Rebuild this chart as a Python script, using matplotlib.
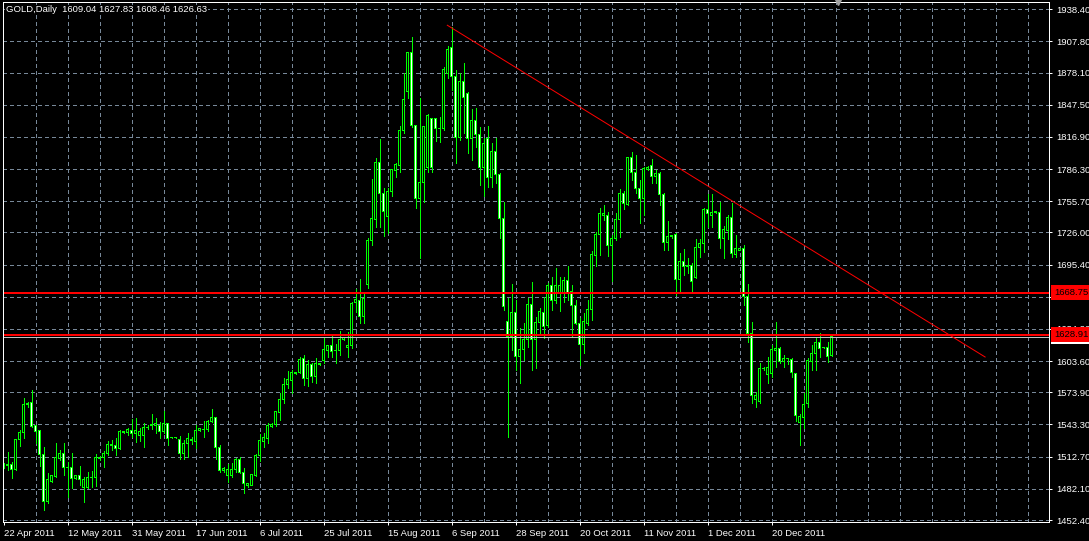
import matplotlib
matplotlib.use("Agg")
import matplotlib.pyplot as plt
import numpy as np
from matplotlib.transforms import blended_transform_factory, offset_copy

# daily GOLD candles (bar 0 = 22 Apr 2011)
opens = [
    1503.8, 1503.8, 1505.4, 1500.7, 1529.2, 1535.5, 1562.2, 1564.4, 1542.5, 1537.1,
    1514.9, 1469.9, 1488.9, 1493.7, 1510.8, 1515.9, 1502.6, 1502.6, 1492.1, 1494.3,
    1483.2, 1483.2, 1493.0, 1493.0, 1510.8, 1512.1, 1515.9, 1523.2, 1523.5, 1520.6,
    1535.5, 1535.5, 1537.8, 1534.9, 1533.0, 1533.0, 1540.6, 1542.2, 1542.2, 1542.5,
    1536.8, 1543.8, 1530.5, 1530.5, 1529.2, 1515.3, 1525.4, 1527.6, 1527.0, 1537.5,
    1538.7, 1538.1, 1546.0, 1549.5, 1521.6, 1499.4, 1494.6, 1494.6, 1500.0, 1510.2,
    1497.8, 1485.4, 1485.4, 1494.9, 1513.7, 1527.3, 1529.8, 1541.6, 1542.8, 1554.5,
    1567.2, 1581.8, 1585.0, 1591.6, 1592.6, 1606.3, 1587.2, 1600.5, 1588.8, 1600.2,
    1604.0, 1613.5, 1618.6, 1613.5, 1613.5, 1624.6, 1616.4, 1618.0, 1659.2, 1660.8,
    1645.9, 1676.7, 1718.2, 1738.8, 1792.4, 1763.3, 1741.1, 1764.8, 1784.8, 1789.6,
    1822.9, 1860.0, 1897.4, 1827.6, 1757.9, 1773.4, 1787.7, 1834.6, 1834.0, 1825.1,
    1825.1, 1877.4, 1902.2, 1874.3, 1816.5, 1869.5, 1858.4, 1815.0, 1833.0, 1819.4,
    1788.0, 1815.0, 1778.5, 1802.9, 1781.3, 1739.5, 1641.1, 1626.9, 1650.0, 1607.8,
    1614.2, 1623.7, 1657.6, 1623.7, 1640.5, 1650.0, 1637.3, 1676.0, 1661.7, 1667.5,
    1667.5, 1680.5, 1669.6, 1656.4, 1639.5, 1619.5, 1639.5, 1652.9, 1704.0, 1724.2,
    1742.6, 1741.7, 1713.5, 1719.8, 1737.9, 1763.3, 1752.8, 1797.5, 1783.2, 1768.0,
    1758.5, 1786.1, 1789.3, 1779.7, 1782.3, 1762.3, 1716.6, 1722.6, 1724.2, 1681.4,
    1698.2, 1693.5, 1695.0, 1683.3, 1711.9, 1715.7, 1747.4, 1742.6, 1744.9, 1745.2,
    1719.8, 1727.7, 1740.4, 1704.6, 1709.3, 1710.9, 1664.9, 1630.0, 1566.6, 1565.0,
    1596.7, 1591.0, 1591.9, 1613.5, 1615.7, 1603.0, 1606.2, 1605.3, 1592.0, 1545.0,
    1550.0, 1563.4, 1603.0, 1611.0, 1621.5, 1616.7, 1616.7, 1609.04,
]
highs = [
    1506.4, 1517.5, 1507.9, 1529.2, 1538.1, 1568.2, 1565.1, 1576.2, 1542.8, 1537.1,
    1521.6, 1496.9, 1495.3, 1525.4, 1519.1, 1525.4, 1507.9, 1515.9, 1494.6, 1503.8,
    1493.7, 1498.4, 1499.1, 1515.3, 1513.3, 1518.4, 1527.6, 1528.6, 1530.2, 1538.1,
    1536.4, 1540.0, 1548.2, 1549.2, 1539.7, 1544.4, 1542.8, 1553.3, 1549.8, 1546.0,
    1556.5, 1545.1, 1531.0, 1531.0, 1532.4, 1528.6, 1534.9, 1531.7, 1542.5, 1539.4,
    1546.7, 1547.6, 1557.8, 1550.1, 1523.8, 1503.2, 1505.4, 1506.4, 1511.1, 1512.7,
    1501.6, 1488.0, 1496.2, 1514.9, 1534.3, 1534.9, 1544.4, 1544.4, 1556.2, 1572.9,
    1587.2, 1594.2, 1595.1, 1592.8, 1607.2, 1609.4, 1604.7, 1601.5, 1606.2, 1601.8,
    1625.3, 1618.9, 1627.5, 1619.9, 1632.2, 1626.9, 1631.0, 1660.2, 1671.9, 1681.4,
    1668.1, 1720.4, 1776.6, 1797.2, 1814.6, 1768.0, 1768.0, 1785.5, 1791.8, 1827.3,
    1877.4, 1898.1, 1912.3, 1828.3, 1853.7, 1827.3, 1838.4, 1835.3, 1835.3, 1836.2,
    1883.8, 1903.5, 1921.2, 1880.6, 1877.4, 1887.0, 1860.0, 1843.2, 1844.1, 1826.7,
    1815.6, 1827.3, 1810.8, 1815.6, 1782.3, 1755.3, 1663.3, 1677.0, 1661.8, 1634.8,
    1639.5, 1663.3, 1678.6, 1645.9, 1653.8, 1664.9, 1677.6, 1684.0, 1691.9, 1683.3,
    1684.0, 1694.4, 1676.0, 1661.7, 1644.3, 1649.1, 1661.7, 1708.7, 1726.8, 1749.6,
    1752.1, 1745.2, 1723.6, 1744.2, 1767.1, 1765.8, 1798.1, 1802.9, 1799.7, 1776.0,
    1788.0, 1789.3, 1795.9, 1785.5, 1783.9, 1763.2, 1736.9, 1723.6, 1725.8, 1706.2,
    1710.0, 1701.4, 1696.6, 1719.5, 1719.5, 1749.0, 1762.6, 1762.6, 1746.7, 1755.3,
    1732.2, 1742.6, 1754.4, 1723.6, 1711.2, 1714.1, 1677.0, 1641.1, 1574.5, 1601.5,
    1598.3, 1607.8, 1618.9, 1641.1, 1617.3, 1609.4, 1606.5, 1606.2, 1592.6, 1553.0,
    1573.0, 1606.2, 1618.9, 1626.9, 1630.0, 1617.0, 1622.1, 1627.83,
]
lows = [
    1501.6, 1500.0, 1492.1, 1500.0, 1522.9, 1530.2, 1560.3, 1541.3, 1526.0, 1503.8,
    1461.9, 1468.9, 1488.9, 1493.7, 1509.5, 1495.3, 1474.6, 1482.6, 1491.5, 1485.7,
    1469.9, 1482.6, 1484.2, 1484.8, 1509.5, 1502.6, 1514.3, 1519.1, 1514.3, 1519.7,
    1535.3, 1533.0, 1531.7, 1527.0, 1527.6, 1522.2, 1538.7, 1539.4, 1534.9, 1530.2,
    1534.9, 1523.8, 1530.0, 1530.0, 1510.2, 1510.2, 1512.7, 1524.8, 1520.6, 1537.2,
    1531.7, 1537.5, 1546.0, 1510.5, 1498.4, 1498.4, 1488.9, 1493.7, 1498.4, 1496.9,
    1477.8, 1484.2, 1485.4, 1494.3, 1508.9, 1521.6, 1525.4, 1540.6, 1541.9, 1547.6,
    1563.4, 1577.7, 1572.9, 1591.4, 1592.0, 1580.9, 1579.9, 1584.0, 1582.5, 1599.9,
    1602.1, 1607.2, 1607.8, 1602.1, 1609.4, 1623.7, 1607.2, 1615.7, 1650.6, 1640.2,
    1640.2, 1673.5, 1714.1, 1731.5, 1731.5, 1722.7, 1725.8, 1760.7, 1779.1, 1783.9,
    1820.4, 1853.7, 1826.1, 1749.0, 1702.0, 1755.3, 1783.9, 1783.9, 1813.4, 1812.4,
    1823.5, 1873.3, 1861.6, 1791.8, 1814.0, 1820.4, 1801.3, 1795.0, 1807.7, 1771.2,
    1760.7, 1769.6, 1769.0, 1772.8, 1720.4, 1652.0, 1531.7, 1614.2, 1595.1, 1582.4,
    1604.6, 1617.3, 1595.1, 1596.7, 1630.0, 1625.3, 1636.4, 1652.2, 1659.2, 1651.6,
    1660.2, 1661.7, 1626.9, 1638.9, 1599.9, 1611.0, 1638.0, 1642.7, 1694.4, 1704.6,
    1737.9, 1703.6, 1680.1, 1718.8, 1722.0, 1748.0, 1752.1, 1775.9, 1763.3, 1735.3,
    1742.6, 1785.5, 1772.8, 1772.8, 1752.1, 1709.3, 1709.3, 1720.4, 1666.5, 1669.7,
    1685.5, 1687.1, 1670.6, 1682.4, 1703.0, 1707.7, 1731.5, 1731.5, 1744.2, 1710.9,
    1701.4, 1719.5, 1703.0, 1703.0, 1709.0, 1657.0, 1622.1, 1563.4, 1560.2, 1563.4,
    1595.1, 1582.4, 1588.8, 1598.3, 1602.1, 1598.3, 1601.0, 1588.8, 1547.0, 1524.0,
    1540.0, 1560.0, 1595.1, 1595.1, 1607.8, 1616.0, 1603.0, 1608.46,
]
closes = [
    1503.9, 1505.1, 1500.7, 1529.2, 1535.9, 1561.9, 1562.8, 1541.3, 1536.5, 1514.9,
    1469.9, 1490.5, 1494.9, 1511.8, 1515.9, 1502.2, 1502.4, 1492.1, 1494.3, 1491.1,
    1490.5, 1492.7, 1493.1, 1512.1, 1512.1, 1515.9, 1523.8, 1524.4, 1520.6, 1536.2,
    1536.2, 1538.1, 1534.9, 1537.1, 1536.8, 1540.6, 1540.8, 1543.5, 1543.8, 1536.8,
    1544.4, 1530.2, 1530.6, 1530.6, 1515.6, 1525.4, 1530.2, 1529.2, 1537.8, 1539.0,
    1538.8, 1546.3, 1549.5, 1521.3, 1499.4, 1501.6, 1500.0, 1500.0, 1510.2, 1497.8,
    1487.3, 1487.3, 1495.9, 1514.0, 1527.6, 1530.5, 1542.2, 1543.5, 1555.2, 1567.5,
    1581.8, 1586.2, 1592.6, 1592.6, 1605.6, 1587.2, 1600.5, 1588.8, 1601.5, 1601.5,
    1615.1, 1618.6, 1612.6, 1613.6, 1624.6, 1625.9, 1618.6, 1658.6, 1661.8, 1645.9,
    1663.6, 1718.8, 1739.5, 1792.4, 1763.3, 1745.8, 1764.8, 1785.5, 1790.9, 1822.9,
    1852.1, 1897.4, 1827.6, 1757.9, 1773.7, 1826.7, 1837.2, 1787.7, 1825.1, 1825.3,
    1881.3, 1900.3, 1874.3, 1816.5, 1869.5, 1854.6, 1815.0, 1833.0, 1819.4, 1788.0,
    1810.8, 1778.5, 1802.9, 1781.3, 1739.5, 1655.4, 1626.9, 1650.0, 1607.8, 1614.2,
    1623.7, 1657.6, 1623.7, 1640.5, 1650.6, 1636.4, 1676.0, 1661.7, 1676.0, 1675.4,
    1680.5, 1669.0, 1656.4, 1639.5, 1619.5, 1641.1, 1652.9, 1704.6, 1724.2, 1744.2,
    1744.2, 1713.5, 1719.8, 1737.9, 1763.3, 1753.7, 1797.5, 1783.2, 1768.0, 1758.5,
    1787.0, 1788.0, 1779.1, 1782.3, 1762.3, 1716.6, 1722.6, 1722.9, 1681.4, 1698.2,
    1693.5, 1695.0, 1679.2, 1711.9, 1715.7, 1747.4, 1744.2, 1745.2, 1746.4, 1719.8,
    1729.3, 1740.4, 1706.2, 1710.3, 1710.9, 1664.9, 1630.0, 1571.3, 1571.3, 1596.7,
    1596.9, 1597.7, 1614.2, 1615.7, 1603.0, 1606.2, 1605.7, 1592.6, 1551.4, 1551.0,
    1562.5, 1604.6, 1611.0, 1621.5, 1615.7, 1616.2, 1607.8, 1626.63,
]

date_labels = ["22 Apr 2011", "12 May 2011", "31 May 2011", "17 Jun 2011", "6 Jul 2011",
               "25 Jul 2011", "15 Aug 2011", "6 Sep 2011", "28 Sep 2011", "20 Oct 2011",
               "11 Nov 2011", "1 Dec 2011", "20 Dec 2011"]
price_ticks = [1452.40, 1482.10, 1512.70, 1543.30, 1573.90, 1603.60, 1634.20, 1664.80,
               1695.40, 1726.00, 1755.70, 1786.30, 1816.90, 1847.50, 1878.10, 1907.80, 1938.40]

levels = [1668.75, 1628.91]          # horizontal red lines
trend_bars = [110.95, 245.4]          # trend line anchors (bar index)
trend_prices = [1923.2, 1607.5]

PX = 72 / 100  # one pixel in points
GREEN = "#00ff00"
GRID = "#778899"

o = np.array(opens)
h = np.array(highs)
l = np.array(lows)
c = np.array(closes)
x = np.arange(len(o))

plt.rcParams["font.family"] = ["Liberation Sans", "DejaVu Sans"]

fig = plt.figure(figsize=(10.89, 5.41), dpi=100, facecolor="black")
ax = fig.add_axes([2.5 / 1089, 19 / 541, 1046.5 / 1089, 520 / 541])
ax.set_facecolor("black")
ax.set_xlim(-0.25, 261.375)
ax.set_ylim(1450.5, 1945.3)
unit = (1945.3 - 1450.5) / 520  # price of one pixel

for s in ax.spines.values():
    s.set_color("white")
    s.set_linewidth(PX)
    s.set_zorder(10)

# dashed grid
for p in price_ticks:
    ax.axhline(p, color=GRID, lw=PX, ls=(0, (3, 3)), zorder=1, antialiased=False)
for b in range(8, 262, 8):
    ax.axvline(b, color=GRID, lw=PX, ls=(0, (3, 3)), zorder=1, antialiased=False)

# candles: wick, 3px green body, 1px inner fill (black = up, white = down)
body_lo = np.minimum(o, c)
body_hi = np.maximum(o, c)
ax.vlines(x, l, h, colors=GREEN, lw=PX, zorder=3, antialiased=False)
ax.bar(x, body_hi - body_lo + unit, bottom=body_lo - 0.5 * unit, width=0.75,
       color=GREEN, linewidth=0, zorder=4, antialiased=False)
tall = (body_hi - body_lo) > 1.2 * unit
fill = np.where(c >= o, "black", "white")
ax.bar(x[tall], (body_hi - body_lo)[tall] - unit, bottom=body_lo[tall] + 0.5 * unit,
       width=0.25, color=fill[tall], linewidth=0, zorder=5, antialiased=False)

# horizontal levels, bid line and trend line
ax.axhline(closes[-1], color="#c0c0c0", lw=PX, zorder=6)
for lv in levels:
    ax.axhline(lv, color="red", lw=2 * PX, zorder=7)
ax.plot(trend_bars, trend_prices, color="red", lw=PX, zorder=7)

# axes ticks
ax.yaxis.tick_right()
ax.set_yticks(price_ticks)
ax.set_yticklabels([f"{p:.2f}" for p in price_ticks])
ax.tick_params(axis="y", direction="out", length=3 * PX, width=PX, colors="white",
               labelsize=6.8, pad=3)
ax.set_xticks(np.arange(0, 16 * len(date_labels), 16))
ax.set_xticklabels(date_labels)
ax.tick_params(axis="x", direction="out", length=3 * PX, width=PX, colors="white",
               labelsize=6.8, pad=3)
for t in ax.get_xticklabels():
    t.set_ha("left")

# price boxes on the right scale
yt = blended_transform_factory(ax.transAxes, ax.transData)
box_t = offset_copy(yt, fig=fig, x=5, y=0, units="dots")
ax.text(1.0, closes[-1], f"{closes[-1]:.2f}", transform=box_t, ha="left", va="center",
        fontsize=6.8, color="black", clip_on=False, zorder=20,
        bbox=dict(boxstyle="square,pad=0.3", fc="white", ec="none"))
for lv in levels:
    ax.text(1.0, lv, f"{lv:.2f}", transform=box_t, ha="left", va="center",
            fontsize=6.8, color="black", clip_on=False, zorder=21,
            bbox=dict(boxstyle="square,pad=0.3", fc="red", ec="none"))

# chart shift marker
ax.plot([208.6], [1.0], marker="v", ms=4, color="#a0a0a0",
        transform=blended_transform_factory(ax.transData, ax.transAxes), clip_on=False, zorder=12)

# title with last bar OHLC
fig.text(6 / 1089, 1 - 10 / 541,
         f"GOLD,Daily  {opens[-1]:.2f} {highs[-1]:.2f} {lows[-1]:.2f} {closes[-1]:.2f}",
         color="white", fontsize=6.8, va="center", ha="left",
         bbox=dict(boxstyle="square,pad=0.1", fc="black", ec="none"))

fig.savefig("out.png", dpi=100, facecolor="black")
